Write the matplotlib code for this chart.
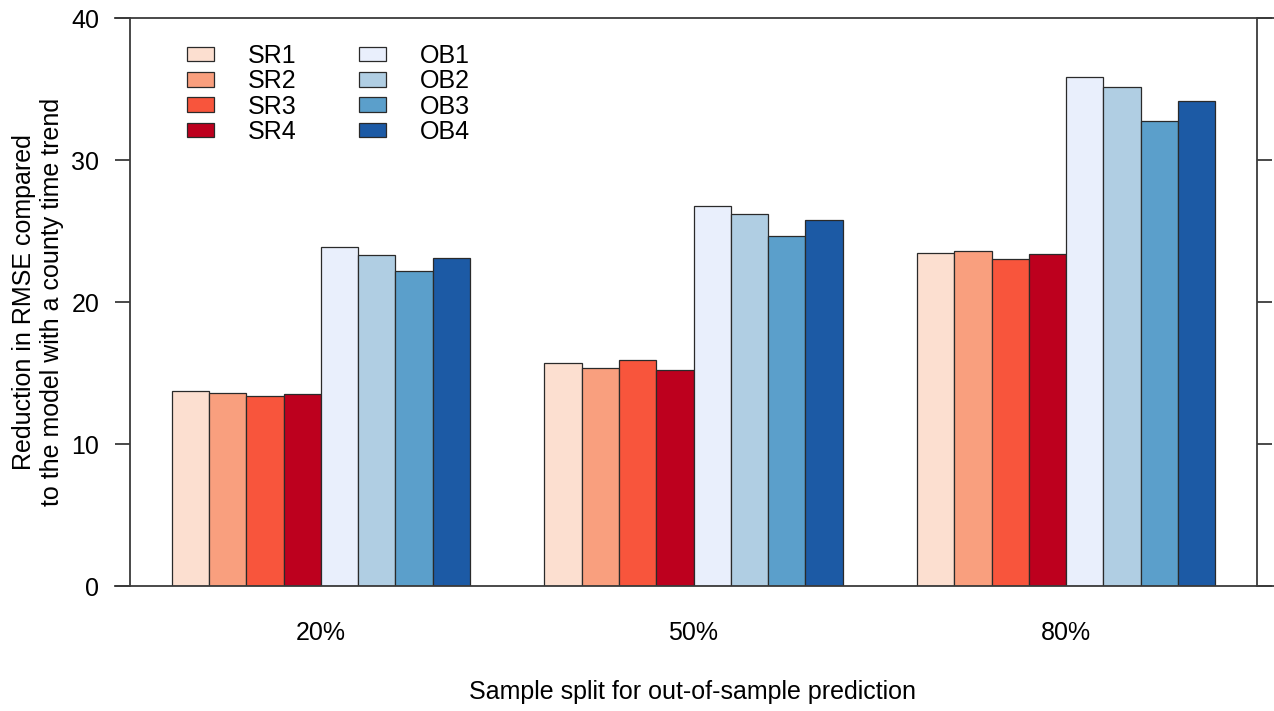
import matplotlib
matplotlib.use("Agg")
import matplotlib.pyplot as plt
from matplotlib.patches import Patch
from matplotlib.lines import Line2D
from matplotlib.transforms import blended_transform_factory
import numpy as np

plt.rcParams['font.family'] = ['Liberation Sans', 'DejaVu Sans']

groups = ["20%", "50%", "80%"]
series = ["SR1", "SR2", "SR3", "SR4", "OB1", "OB2", "OB3", "OB4"]
values = {
    "SR1": [13.73, 15.73, 23.47],
    "SR2": [13.61, 15.33, 23.57],
    "SR3": [13.40, 15.89, 23.05],
    "SR4": [13.52, 15.21, 23.38],
    "OB1": [23.87, 26.76, 35.87],
    "OB2": [23.31, 26.20, 35.12],
    "OB3": [22.15, 24.67, 32.72],
    "OB4": [23.10, 25.77, 34.15],
}
colors = ["#FCDFD0", "#F99F7E", "#F8553C", "#BD001E",
          "#E9EFFC", "#B0CEE3", "#5B9FCB", "#1C5AA5"]
yticks = [0, 10, 20, 30, 40]
ylabel = "Reduction in RMSE compared\nto the model with a county time trend"
xlabel = "Sample split for out-of-sample prediction"

W, H = 1274, 711
fig = plt.figure(figsize=(W / 100, H / 100), dpi=100)
L, R, B, T = 130, 1257, 586, 18
ax = fig.add_axes([L / W, 1 - B / H, (R - L) / W, (B - T) / H])

FS = 18
nser = len(series)
gap = 2
lw_axis = 1.3
axcol = "#3a3a3a"
for gi, g in enumerate(groups):
    for si, s in enumerate(series):
        x = gap + gi * (nser + gap) + si
        ax.bar(x, values[s][gi], width=1.0, align='edge', color=colors[si],
               edgecolor="#2a2a2a", linewidth=0.9)

x0 = gap
x1 = gap + len(groups) * nser + (len(groups) - 1) * gap
pad_x = 0.04 * (x1 - x0)
ax.set_xlim(x0 - pad_x, x1 + pad_x)
ax.set_ylim(0, 40)
centers = [gap + gi * (nser + gap) + nser / 2 for gi in range(len(groups))]
ax.set_xticks(centers)
ax.set_xticklabels(groups, fontsize=FS)
ax.tick_params(axis='x', length=0, pad=25)
ax.set_yticks(yticks)
ax.set_yticklabels([str(v) for v in yticks], fontsize=FS)
ax.tick_params(axis='y', direction='out', length=11, width=lw_axis, color=axcol,
               right=True, labelright=False, pad=11)
for s in ['top', 'bottom']:
    ax.spines[s].set_visible(False)
for s in ['left', 'right']:
    ax.spines[s].set_linewidth(lw_axis)
    ax.spines[s].set_color(axcol)

tr = blended_transform_factory(fig.transFigure, ax.transData)
for yv in [0, 40]:
    fig.add_artist(Line2D([115 / W, 1.0], [yv, yv], transform=tr,
                          color=axcol, linewidth=lw_axis, clip_on=False))

fig.text(693 / W, 1 - 692 / H, xlabel, ha='center', va='center', fontsize=FS)
fig.text(38 / W, 1 - 302 / H, ylabel, ha='center', va='center', rotation=90,
         fontsize=FS, linespacing=1.25)

handles = [Patch(facecolor=c, edgecolor="#2a2a2a", linewidth=0.9) for c in colors]
leg = ax.legend(handles, series, ncol=2, loc='upper left',
                bbox_to_anchor=(187 / W, 1 - 44 / H), bbox_transform=fig.transFigure,
                frameon=False, fontsize=FS, borderpad=0, borderaxespad=0,
                handlelength=1.08, handleheight=0.52, handletextpad=1.36,
                columnspacing=2.5, labelspacing=0.05)

fig.savefig("out.png", dpi=100)
